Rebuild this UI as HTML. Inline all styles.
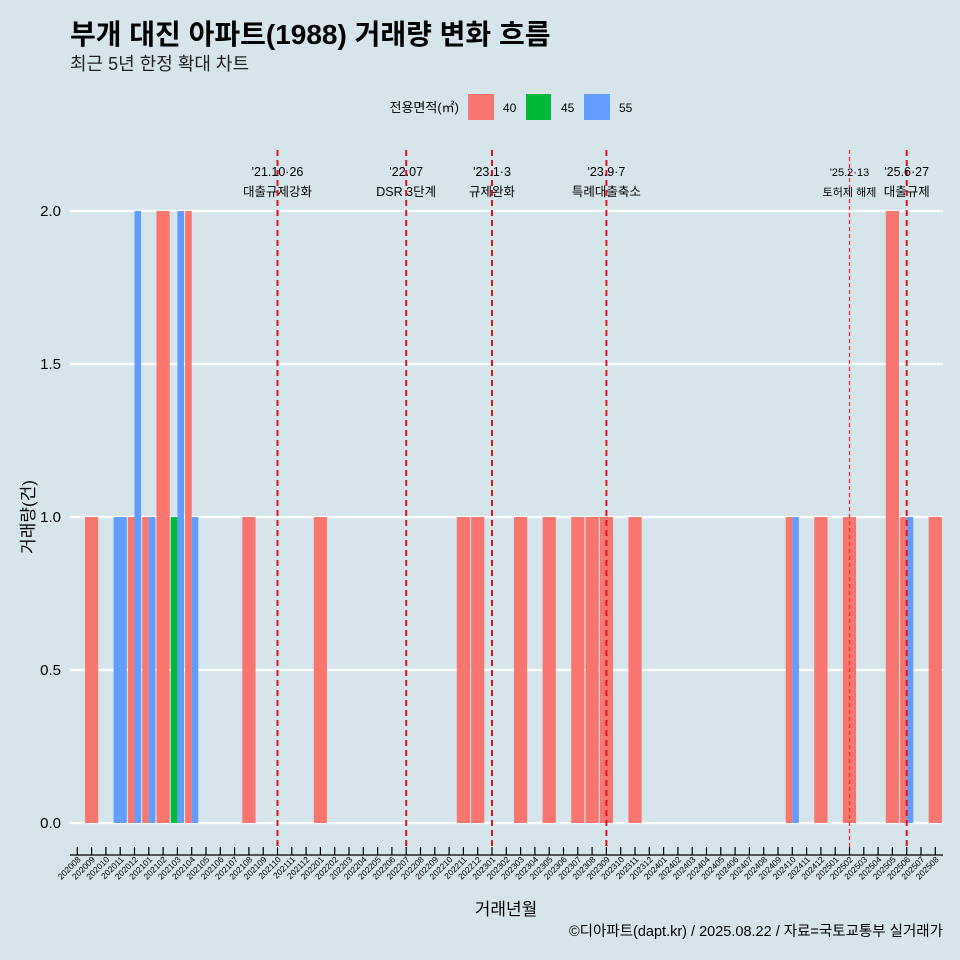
<!DOCTYPE html>
<html><head><meta charset="utf-8"><style>
body{margin:0;background:#d6e4eb;}
svg{display:block;font-family:"Liberation Sans","Noto Sans CJK KR",sans-serif;}
</style></head><body>
<svg id="chart" width="960" height="960" viewBox="0 0 960 960">
<rect width="960" height="960" fill="#d6e4eb"/>
<text x="70" y="44" font-size="28" font-weight="bold" fill="#000">부개 대진 아파트(1988) 거래량 변화 흐름</text>
<text x="70" y="70" font-size="18" fill="#222">최근 5년 한정 확대 차트</text>
<g>
<text x="459" y="112" font-size="13" text-anchor="end">전용면적(㎡)</text>
<rect x="468" y="94" width="26" height="26" fill="#F8766D"/>
<text x="503" y="112" font-size="12">40</text>
<rect x="526" y="94" width="25" height="26" fill="#00BA38"/>
<text x="561" y="112" font-size="12">45</text>
<rect x="584" y="94" width="26" height="26" fill="#619CFF"/>
<text x="619" y="112" font-size="12">55</text>
</g>
<g id="grid"></g><g id="bars"></g><g id="events"></g><g id="axes"></g>
<text transform="translate(34,517) rotate(-90)" font-size="17" text-anchor="middle">거래량(건)</text>
<text x="506" y="915" font-size="17" text-anchor="middle">거래년월</text>
<text x="943" y="936" font-size="14.5" text-anchor="end">©디아파트(dapt.kr) / 2025.08.22 / 자료=국토교통부 실거래가</text>
</svg>
<script>
const months = [];
for (let y = 2020, m = 8; months.length < 61; m++) { if (m > 12) { m = 1; y++; } months.push(y + String(m).padStart(2, '0')); }
const areas = ['40', '45', '55'];
const colors = {'40': '#F8766D', '45': '#00BA38', '55': '#619CFF'};
// [month, area, count]
const records = [
 ['202009','40',1],['202011','55',1],['202012','40',1],['202012','55',2],
 ['202101','40',1],['202101','55',1],['202102','40',2],['202103','45',1],['202103','55',2],
 ['202104','40',2],['202104','55',1],['202108','40',1],['202201','40',1],
 ['202211','40',1],['202212','40',1],['202303','40',1],['202305','40',1],['202307','40',1],
 ['202308','40',1],['202309','40',1],['202311','40',1],['202410','40',1],['202410','55',1],
 ['202412','40',1],['202502','40',1],['202505','40',2],['202506','40',1],['202506','55',1],['202508','40',1]
];
const yTicks = [0, 0.5, 1.0, 1.5, 2.0];
const eventMonths = ['202110', '202207', '202301', '202309', '202502', '202506'];
const eventDates = ["'21.10·26", "'22.07", "'23.1·3", "'23.9·7", "'25.2·13", "'25.6·27"];
const eventNames = ['대출규제강화', 'DSR 3단계', '규제완화', '특례대출축소', '토허제 해제', '대출규제'];

const NS = 'http://www.w3.org/2000/svg';
const x0 = 77.3, step = 14.3, band = 13.2;
const X = i => x0 + step * i;
const Y = v => 823 - v * 306;
function mk(tag, attrs, parent, text) {
  const e = document.createElementNS(NS, tag);
  for (const k in attrs) e.setAttribute(k, attrs[k]);
  if (text !== undefined) e.textContent = text;
  document.getElementById(parent).appendChild(e);
  return e;
}
yTicks.forEach(v => {
  const g = mk('line', {x1: 70, x2: 943, y1: Y(v), y2: Y(v), stroke: '#fff', 'stroke-width': 2.2}, 'grid');
  
  
  const t = mk('text', {x: 61, y: Y(v) + 5, 'font-size': 15, 'text-anchor': 'end'}, 'axes', v.toFixed(1));
  
  
});
months.forEach((mo, i) => {
  const recs = records.filter(r => r[0] === mo);
  const w = band / Math.max(recs.length, 1);
  recs.sort((a, b) => areas.indexOf(a[1]) - areas.indexOf(b[1])).forEach((r, j) => {
    const b = mk('rect', {x: X(i) - band / 2 + j * w, y: Y(r[2]), width: w, height: Y(0) - Y(r[2]), fill: colors[r[1]]}, 'bars');
    
    
  });
  const tk = mk('line', {x1: X(i), x2: X(i), y1: 847, y2: 855, stroke: '#000', 'stroke-width': 1.2}, 'axes');
  
  
  const lb = mk('text', {transform: `translate(${X(i) + 4},860) rotate(-45)`, 'font-size': 8.5, 'text-anchor': 'end'}, 'axes', mo);
  
  
});
const ax = mk('line', {x1: 70, x2: 943, y1: 855, y2: 855, stroke: '#000', 'stroke-width': 1.2}, 'axes');


eventMonths.forEach((mo, k) => {
  const i = months.indexOf(mo);
  const small = k === 4;
  const l = mk('line', {x1: X(i), x2: X(i), y1: 150, y2: 850, stroke: small ? '#ee3333' : '#e0141c', 'stroke-width': small ? 1.3 : 2, 'stroke-dasharray': small ? '4,3' : '6,4'}, 'events');
  
  
  const fs = small ? 11 : 12.5;
  const t1 = mk('text', {x: X(i), y: 176, 'font-size': fs, 'text-anchor': 'middle'}, 'events', eventDates[k]);
  
  
  const t2 = mk('text', {x: X(i), y: 196, 'font-size': fs, 'text-anchor': 'middle'}, 'events', eventNames[k]);
  
  
});
</script>
</body></html>
